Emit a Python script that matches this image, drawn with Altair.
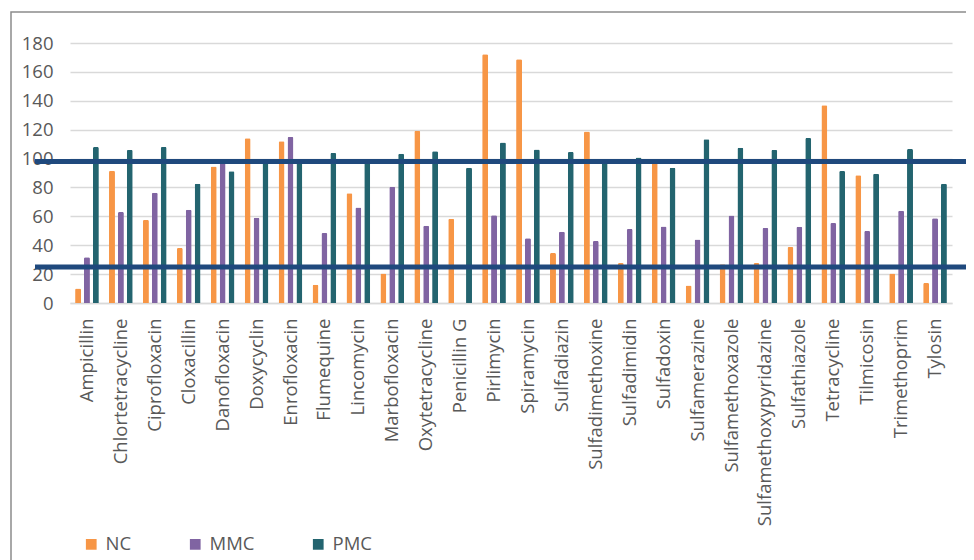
import altair as alt
import pandas as pd

categories = [
    "Ampicillin", "Chlortetracycline", "Ciprofloxacin", "Cloxacillin", "Danofloxacin",
    "Doxycyclin", "Enrofloxacin", "Flumequine", "Lincomycin", "Marbofloxacin",
    "Oxytetracycline", "Penicillin G", "Pirlimycin", "Spiramycin", "Sulfadiazin",
    "Sulfadimethoxine", "Sulfadimidin", "Sulfadoxin", "Sulfamerazine", "Sulfamethoxazole",
    "Sulfamethoxypyridazine", "Sulfathiazole", "Tetracycline", "Tilmicosin",
    "Trimethoprim", "Tylosin",
]
nc = [10, 91.5, 57.5, 38, 94.5, 114, 112, 12.7, 76, 20.5,
      119.3, 58.4, 172.2, 168.7, 34.6, 118.8, 27.7, 97, 12.2, 26.8,
      27.7, 38.8, 136.9, 88.4, 20.5, 13.8]
mmc = [31.6, 63, 76.4, 64.6, 97, 59, 115, 48.5, 66.2, 80.5,
       53.5, None, 60.7, 44.8, 49.4, 42.9, 51.2, 53, 44, 60.5,
       52, 52.8, 55.4, 49.8, 63.9, 58.6]
pmc = [108, 106, 108, 82.6, 91.2, 97.5, 97.5, 103.8, 97.5, 103.4,
       105, 93.7, 111.2, 106.2, 104.5, 99.7, 100.8, 93.7, 113.3, 107.5,
       106, 114.2, 91.4, 89.5, 106.6, 82.6]
series = ["NC", "MMC", "PMC"]
colors = ["#F79646", "#8064A2", "#23646F"]
ref_levels = [98, 25]
y_ticks = [0, 20, 40, 60, 80, 100, 120, 140, 160, 180]

rows = []
for i, c in enumerate(categories):
    for s, vals in zip(series, [nc, mmc, pmc]):
        v = vals[i]
        if v is not None:
            rows.append({"drug": c, "series": s, "value": v})
df = pd.DataFrame(rows)
ref_df = pd.DataFrame({"level": ref_levels})

W, H = 882, 260
FONT = "Open Sans"
GREY = "#595959"
FS = 18.5

yscale = alt.Scale(domain=[0, 180], nice=False)
yaxis = alt.Axis(
    title=None, values=y_ticks, labelFont=FONT, labelFontSize=FS,
    labelColor=GREY, labelPadding=17, ticks=False, tickSize=0, domain=False,
    grid=True, gridColor="#D9D9D9", gridWidth=1.5, labelOverlap=False,
    labelBound=False, labelFlush=False,
)

border = alt.Chart(ref_df.head(1)).mark_rect(
    fill="white", fillOpacity=0, stroke="#8C8C8C", strokeWidth=1.5, clip=False
).encode(
    x=alt.value(-59), x2=alt.value(930), y=alt.value(-31), y2=alt.value(560)
)

bars = alt.Chart(df).mark_bar(cornerRadiusEnd=1.5).encode(
    x=alt.X(
        "drug:N", sort=categories,
        scale=alt.Scale(paddingInner=0.3, paddingOuter=0.15),
        axis=alt.Axis(
            title=None, labelAngle=270, labelAlign="right", labelBaseline="middle",
            labelFont=FONT, labelFontSize=FS, labelColor=GREY, labelPadding=15,
            ticks=False, tickSize=0, domainColor="#D9D9D9", domainWidth=1.5,
            grid=False, labelOverlap=False, labelLimit=400,
        ),
    ),
    xOffset=alt.XOffset(
        "series:N", sort=series,
        scale=alt.Scale(domain=series, paddingInner=0.33, paddingOuter=0),
    ),
    y=alt.Y("value:Q", scale=yscale, axis=yaxis),
    color=alt.Color(
        "series:N", sort=series,
        scale=alt.Scale(domain=series, range=colors),
        legend=alt.Legend(
            title=None, orient="none", legendX=12, legendY=492, direction="horizontal",
            symbolType="square", symbolSize=115, symbolStrokeWidth=0,
            labelFont=FONT, labelFontSize=FS, labelColor=GREY, labelOffset=5,
            columnPadding=54, padding=0,
        ),
    ),
)

rules = alt.Chart(ref_df).mark_rule(color="#1F497D", strokeWidth=5, clip=False).encode(
    y=alt.Y("level:Q", scale=yscale, axis=yaxis),
    x=alt.value(-35),
    x2=alt.value(920),
)

chart = alt.layer(border, bars, rules).properties(
    width=W, height=H,
    background="white",
    autosize=alt.AutoSizeParams(type="none"),
    padding={"left": 62, "top": 35, "right": 14, "bottom": 257},
).configure_view(stroke=None)

chart.save("out.html", embed_options={"renderer": "svg", "actions": False})
